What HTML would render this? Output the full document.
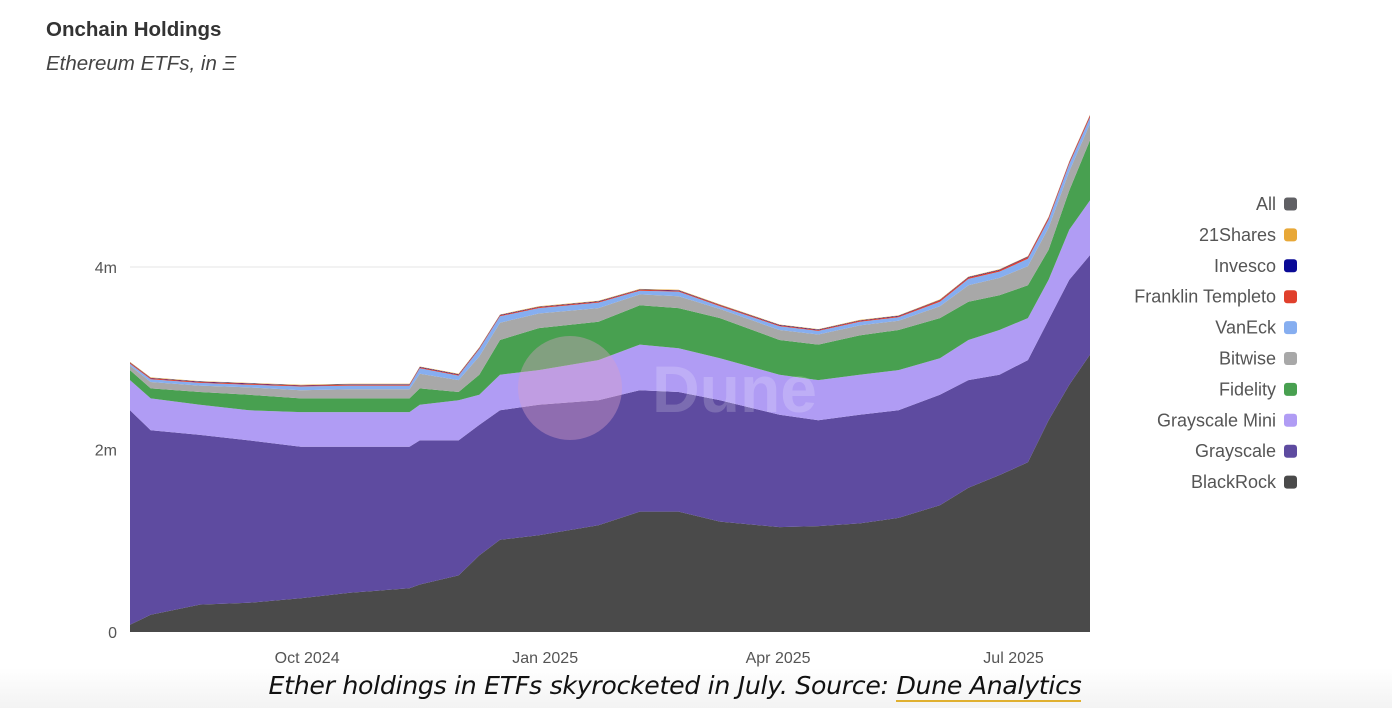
<!DOCTYPE html>
<html><head><meta charset="utf-8">
<style>
html,body{margin:0;padding:0;background:#fff;}
body{width:1392px;height:708px;overflow:hidden;position:relative;font-family:"Liberation Sans","DejaVu Sans",sans-serif;}
#title{position:absolute;left:46px;top:18px;font-size:20.5px;font-weight:bold;color:#333;}
#subtitle{position:absolute;left:46px;top:52px;font-size:20.5px;font-style:italic;color:#444;}
#caption{position:absolute;left:0;width:1350px;top:671px;text-align:center;font-size:25.2px;font-style:italic;color:#111;font-family:"DejaVu Sans","Liberation Sans",sans-serif;letter-spacing:-0.3px;}
#caption span{border-bottom:2px solid #e0b030;}
#footer-fade{position:absolute;left:0;top:668px;width:1392px;height:40px;background:linear-gradient(#fff,#f3f3f3);}
</style></head>
<body>
<div id="footer-fade"></div>
<div id="title">Onchain Holdings</div>
<div id="subtitle">Ethereum ETFs, in Ξ</div>
<svg id="chart" width="1392" height="708" style="position:absolute;left:0;top:0"></svg>
<div id="caption">Ether holdings in ETFs skyrocketed in July. Source: <span>Dune Analytics</span></div>
<script>
const dates = ["2024-07-23","2024-07-31","2024-08-19","2024-09-07","2024-09-27","2024-10-16","2024-11-08","2024-11-12","2024-11-27","2024-12-05","2024-12-13","2024-12-28","2025-01-20","2025-02-05","2025-02-20","2025-03-08","2025-03-31","2025-04-15","2025-05-01","2025-05-16","2025-06-01","2025-06-12","2025-06-24","2025-07-05","2025-07-13","2025-07-21","2025-07-29"];
const blackrock = [0.08,0.19,0.30,0.32,0.37,0.43,0.48,0.52,0.62,0.84,1.01,1.06,1.17,1.32,1.32,1.21,1.15,1.16,1.19,1.25,1.39,1.58,1.72,1.86,2.32,2.71,3.04];
const grayscale = [2.35,2.02,1.86,1.78,1.66,1.60,1.55,1.58,1.48,1.43,1.42,1.43,1.37,1.33,1.31,1.33,1.23,1.16,1.19,1.18,1.21,1.18,1.10,1.12,1.10,1.15,1.09];
const grayscaleMini = [0.33,0.35,0.33,0.33,0.38,0.38,0.38,0.39,0.44,0.33,0.39,0.38,0.44,0.50,0.48,0.46,0.44,0.44,0.44,0.44,0.40,0.44,0.49,0.46,0.44,0.55,0.60];
const fidelity = [0.11,0.11,0.14,0.17,0.15,0.15,0.15,0.18,0.09,0.22,0.38,0.46,0.42,0.43,0.44,0.44,0.38,0.39,0.43,0.44,0.44,0.42,0.38,0.36,0.33,0.43,0.66];
const bitwise = [0.05,0.07,0.07,0.08,0.09,0.10,0.10,0.16,0.13,0.20,0.19,0.16,0.15,0.12,0.13,0.10,0.11,0.11,0.11,0.10,0.13,0.18,0.19,0.21,0.24,0.21,0.18];
const vaneck = [0.02,0.03,0.03,0.03,0.04,0.04,0.04,0.06,0.05,0.08,0.07,0.06,0.06,0.04,0.05,0.03,0.04,0.04,0.04,0.04,0.05,0.07,0.07,0.08,0.09,0.08,0.07];
const franklin = [0.01,0.01,0.01,0.01,0.01,0.01,0.01,0.01,0.01,0.01,0.01,0.01,0.01,0.01,0.01,0.01,0.01,0.01,0.01,0.01,0.015,0.015,0.015,0.02,0.02,0.02,0.02];
const invesco = [0.005,0.005,0.005,0.005,0.005,0.005,0.005,0.005,0.005,0.005,0.005,0.005,0.005,0.005,0.005,0.005,0.005,0.005,0.005,0.005,0.005,0.005,0.005,0.005,0.005,0.005,0.005];
const shares21 = [0.005,0.005,0.005,0.005,0.005,0.005,0.005,0.005,0.005,0.005,0.005,0.005,0.005,0.005,0.005,0.005,0.005,0.005,0.005,0.005,0.005,0.005,0.005,0.005,0.005,0.005,0.005];
const yTicks = [0,2,4];
const yTickLabels = ["0","2m","4m"];
const xTicks = ["2024-10-01","2025-01-01","2025-04-01","2025-07-01"];
const xTickLabels = ["Oct 2024","Jan 2025","Apr 2025","Jul 2025"];
const legendNames = ["All","21Shares","Invesco","Franklin Templeto","VanEck","Bitwise","Fidelity","Grayscale Mini","Grayscale","BlackRock"];
const legendColors = ["#606064","#e8a838","#0a0a96","#e0402c","#86aef0","#a8a8a8","#48a050","#b09cf4","#5e4ba0","#4a4a4a"];

const NS="http://www.w3.org/2000/svg";
const svg=document.getElementById('chart');
const X0=130,X1=1090,Y0=632,PXM=91.25;
const t0=Date.parse(dates[0]),t1=Date.parse(dates[dates.length-1]);
const xs=d=>X0+(Date.parse(d)-t0)/(t1-t0)*(X1-X0);
const ys=v=>Y0-v*PXM;
function mk(tag,attrs){const e=document.createElementNS(NS,tag);for(const k in attrs)e.setAttribute(k,attrs[k]);svg.appendChild(e);return e;}

yTicks.forEach((v,i)=>{
  if(v>0){const g=mk('line',{x1:X0,x2:X1,y1:ys(v),y2:ys(v),stroke:'#e4e4e4','stroke-width':1});
  
  }
  const t=mk('text',{x:117,y:ys(v)+6,'text-anchor':'end','font-size':16,fill:'#555'});
  t.textContent=yTickLabels[i];
  
  
});
xTicks.forEach((d,i)=>{
  const t=mk('text',{x:xs(d)-4,y:663,'text-anchor':'middle','font-size':16,fill:'#555'});
  t.textContent=xTickLabels[i];
  
  
});

const series=[["blackrock",blackrock,"#4a4a4a"],["grayscale",grayscale,"#5e4ba0"],["grayscale-mini",grayscaleMini,"#b09cf4"],["fidelity",fidelity,"#48a050"],["bitwise",bitwise,"#a8a8a8"],["vaneck",vaneck,"#86aef0"],["franklin-templeton",franklin,"#e0402c"],["invesco",invesco,"#0a0a96"],["21shares",shares21,"#e8a838"]];
let base=dates.map(()=>0);
series.forEach(([name,vals,col])=>{
  const top=base.map((b,i)=>b+vals[i]);
  let d='M'+dates.map((dt,i)=>xs(dt).toFixed(1)+','+ys(top[i]).toFixed(1)).join('L');
  for(let i=dates.length-1;i>=0;i--)d+='L'+xs(dates[i]).toFixed(1)+','+ys(base[i]).toFixed(1);
  d+='Z';
  const p=mk('path',{d:d,fill:col});
  
  
  base=top;
});
const c=mk('circle',{cx:570,cy:388,r:52,fill:'#d9a0c8',opacity:0.4});


const wt=mk('text',{x:652,y:412,'font-size':66,'font-weight':'bold',fill:'#fff',opacity:0.18});
wt.textContent='Dune';



legendNames.forEach((n,i)=>{
  const y=204+i*30.9;
  const t=mk('text',{x:1276,y:y+6,'text-anchor':'end','font-size':18,fill:'#555'});
  t.textContent=n;
  
  
  const r=mk('rect',{x:1284,y:y-6.5,width:13,height:13,rx:3,fill:legendColors[i]});
  
  
});
</script>
</body></html>
